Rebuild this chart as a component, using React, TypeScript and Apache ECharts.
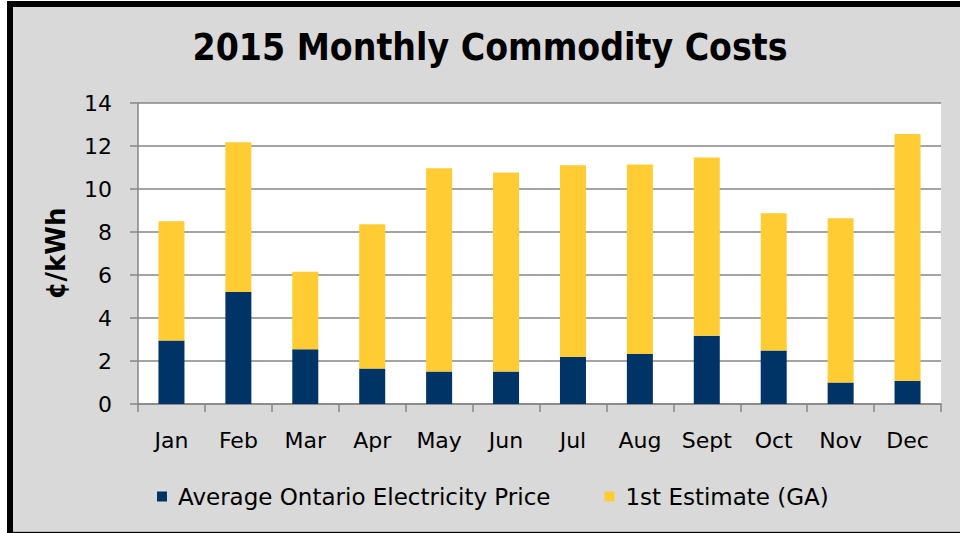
import React, { useEffect, useRef } from "react";
import * as echarts from "echarts";

const categories = ["Jan", "Feb", "Mar", "Apr", "May", "Jun", "Jul", "Aug", "Sept", "Oct", "Nov", "Dec"];
const avgPrice = [2.95, 5.21, 2.55, 1.65, 1.51, 1.51, 2.19, 2.32, 3.17, 2.49, 1.0, 1.08];
const gaEstimate = [5.55, 6.97, 3.6, 6.71, 9.45, 9.26, 8.91, 8.82, 8.3, 6.38, 7.64, 11.48];
const seriesNames = ["Average Ontario Electricity Price", "1st Estimate (GA)"];
const titleText = "2015 Monthly Commodity Costs";
const yAxisName = "¢/kWh";

const TITLE_FONT = "'DejaVu Sans Condensed', 'DejaVu Sans', sans-serif";
const FONT = "'DejaVu Sans', sans-serif";

export default function App() {
  const ref = useRef<HTMLDivElement>(null);
  useEffect(() => {
    if (!ref.current) return;
    const chart = echarts.init(ref.current, null, { renderer: "svg" });
    chart.setOption({
      animation: false,
      backgroundColor: "#ffffff",
      graphic: [
        { type: "rect", shape: { x: 7, y: 1, width: 953, height: 532 }, style: { fill: "#000000" }, z: -10, silent: true },
        { type: "rect", shape: { x: 13, y: 7, width: 947, height: 525 }, style: { fill: "#d9d9d9" }, z: -9, silent: true },
        { type: "rect", shape: { x: 13, y: 531, width: 947, height: 1 }, style: { fill: "#b8b8b8" }, z: -8, silent: true },
        {
          type: "text",
          x: 490,
          y: 47,
          style: {
            text: titleText,
            fill: "#000000",
            font: `bold 37px ${TITLE_FONT}`,
            textAlign: "center",
            textVerticalAlign: "middle",
          },
        },
      ],
      grid: {
        left: 138,
        right: 19,
        top: 103,
        bottom: 129,
        show: true,
        backgroundColor: "#ffffff",
        borderWidth: 0,
      },
      legend: {
        data: seriesNames,
        left: 152,
        top: 480,
        itemWidth: 10,
        itemHeight: 10,
        itemGap: 54,
        icon: "rect",
        textStyle: { fontFamily: FONT, fontSize: 23, color: "#000000", padding: [0, 0, 0, 6] },
      },
      xAxis: {
        type: "category",
        data: categories,
        axisLine: { lineStyle: { color: "#868686", width: 1.5 } },
        axisTick: { show: true, interval: 0, length: 8, lineStyle: { color: "#868686", width: 1.5 } },
        axisLabel: { interval: 0, fontFamily: FONT, fontSize: 22, color: "#000000", margin: 25 },
      },
      yAxis: {
        type: "value",
        min: 0,
        max: 14,
        interval: 2,
        name: yAxisName,
        nameLocation: "middle",
        nameGap: 69,
        nameRotate: 90,
        nameTextStyle: { fontFamily: FONT, fontSize: 26, fontWeight: "bold", color: "#000000" },
        axisLine: { show: true, lineStyle: { color: "#868686", width: 1.5 } },
        axisTick: { show: true, length: 8, lineStyle: { color: "#868686", width: 1.5 } },
        splitLine: { lineStyle: { color: "#868686", width: 1.5 } },
        axisLabel: { fontFamily: FONT, fontSize: 22, color: "#000000", margin: 26 },
      },
      series: [
        {
          name: seriesNames[0],
          type: "bar",
          stack: "total",
          data: avgPrice,
          barWidth: 26,
          itemStyle: { color: "#003366" },
        },
        {
          name: seriesNames[1],
          type: "bar",
          stack: "total",
          data: gaEstimate,
          barWidth: 26,
          itemStyle: { color: "#ffcc33" },
        },
      ],
    });
    return () => chart.dispose();
  }, []);
  return (
    <div style={{ position: "absolute", left: 0, top: 0, width: 960, height: 533 }}>
      <div ref={ref} style={{ width: 960, height: 533 }} />
    </div>
  );
}
